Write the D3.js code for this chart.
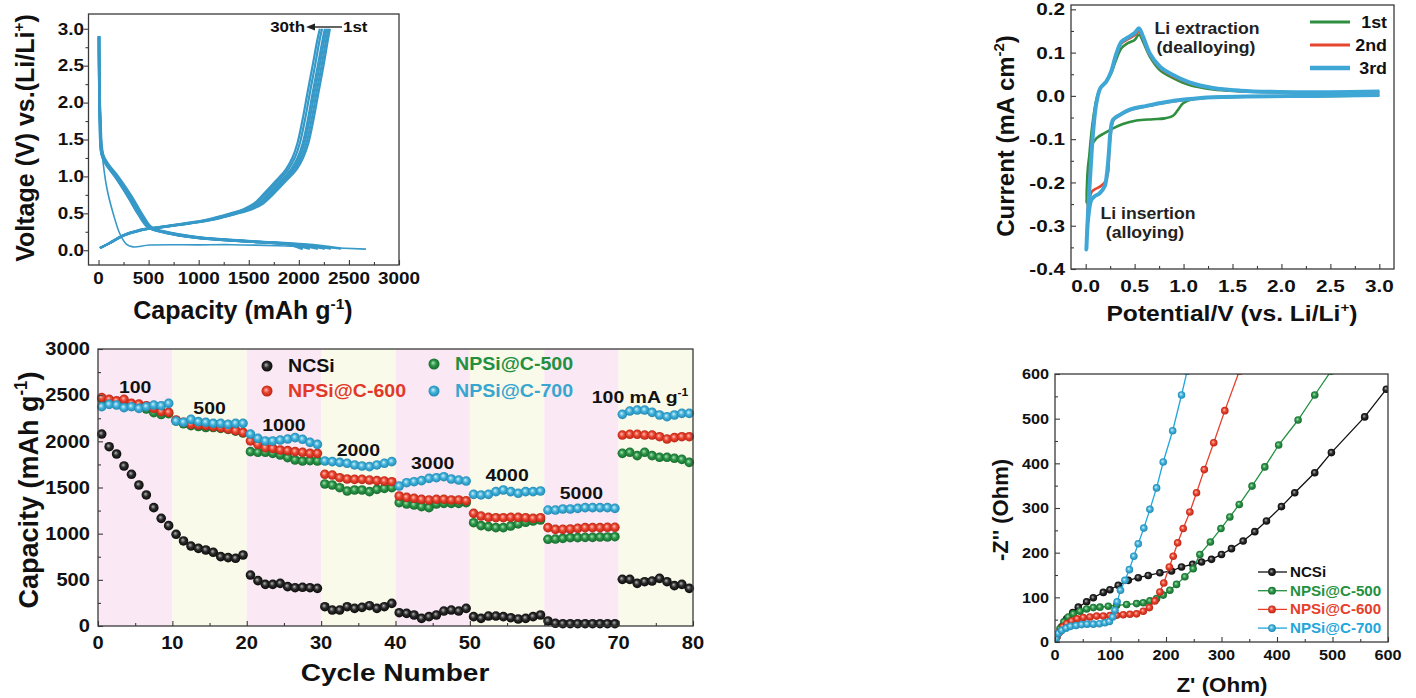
<!DOCTYPE html>
<html>
<head>
<meta charset="utf-8">
<script src="https://cdn.jsdelivr.net/npm/d3@7"></script>
<style>
body { margin: 0; background: #fff; }
svg text { font-family: 'Liberation Sans', Arial, sans-serif; font-weight: bold; }
.frame { fill: none; stroke: #3a3a3a; stroke-width: 1.3; }
.tick line { stroke: #3a3a3a; stroke-width: 1.1; }
</style>
</head>
<body>
<div id="chart"></div>
<script>
// ---- panel a : charge / discharge profiles
var chargeV = [0.03, 0.1, 0.2, 0.27, 0.31, 0.36, 0.42, 0.49, 0.56, 0.63, 0.76, 0.95, 1.1, 1.26, 1.45, 1.76, 2.13, 2.49, 2.85, 3.0],
    chargeCap = [
        [15, 120, 255, 425, 630, 900, 1170, 1370, 1540, 1640, 1745, 1880, 1980, 2045, 2095, 2145, 2195, 2245, 2290, 2310],
        [15, 118, 252, 420, 620, 890, 1160, 1360, 1525, 1625, 1728, 1862, 1962, 2027, 2076, 2126, 2176, 2226, 2273, 2295],
        [15, 116, 250, 415, 614, 880, 1146, 1345, 1510, 1608, 1710, 1843, 1942, 2008, 2056, 2106, 2156, 2206, 2254, 2277],
        [15, 115, 247, 411, 609, 872, 1135, 1332, 1497, 1595, 1694, 1826, 1924, 1990, 2039, 2089, 2138, 2188, 2237, 2260],
        [15, 112, 242, 402, 596, 855, 1115, 1310, 1472, 1570, 1668, 1800, 1896, 1962, 2010, 2060, 2110, 2160, 2208, 2232],
        [15, 110, 238, 395, 585, 840, 1098, 1292, 1452, 1550, 1648, 1778, 1873, 1938, 1986, 2036, 2086, 2136, 2185, 2210]
    ],
    dischargeV = [2.9, 1.8, 1.3, 1.17, 0.99, 0.72, 0.49, 0.31, 0.24, 0.17, 0.12, 0.08, 0.03, 0.02],
    dischargeCap = [
        [5, 18, 45, 95, 200, 335, 435, 530, 700, 1040, 1550, 2050, 2380, 2420],
        [5, 16, 40, 88, 190, 322, 422, 519, 686, 1018, 1520, 1990, 2290, 2320],
        [5, 15, 37, 84, 184, 315, 415, 512, 677, 1006, 1505, 1960, 2230, 2260],
        [5, 14, 34, 80, 178, 308, 407, 505, 668, 995, 1490, 1930, 2160, 2190],
        [5, 13, 32, 76, 172, 300, 400, 499, 660, 982, 1470, 1905, 2080, 2110],
        [5, 12, 30, 72, 168, 296, 396, 496, 655, 975, 1460, 1890, 2010, 2040]
    ],
    firstDisV = [2.88, 1.8, 1.35, 0.85, 0.49, 0.22, 0.08, 0.045, 0.07, 0.073, 0.075, 0.06, 0.04, 0.015],
    firstDisCap = [0, 10, 33, 82, 148, 214, 280, 345, 510, 1003, 1332, 1800, 2200, 2670];

// ---- panel b : cyclic voltammetry, [potential, current]
var cv1 = [[3.0, 0.0015], [2.33, -0.001], [1.64, -0.002], [1.3, -0.004], [1.1, -0.007], [0.995, -0.017], [0.944, -0.032],
           [0.893, -0.046], [0.808, -0.052], [0.689, -0.054], [0.518, -0.057], [0.38, -0.065], [0.28, -0.075], [0.194, -0.086],
           [0.109, -0.098], [0.058, -0.117], [0.024, -0.163], [0.008, -0.248], [0.024, -0.178], [0.048, -0.109], [0.075, -0.055],
           [0.109, -0.009], [0.15, 0.018], [0.21, 0.033], [0.26, 0.052], [0.31, 0.083], [0.365, 0.11], [0.43, 0.122], [0.5, 0.129],
           [0.545, 0.142], [0.586, 0.125], [0.655, 0.091], [0.757, 0.06], [0.893, 0.041], [1.06, 0.025], [1.3, 0.015], [1.58, 0.011],
           [1.98, 0.0085], [2.5, 0.008], [3.0, 0.009]],
    cv2 = [[3.0, 0.003], [2.33, 0.0], [1.64, -0.0015], [1.3, -0.003], [1.03, -0.009], [0.825, -0.015], [0.62, -0.024], [0.45, -0.033],
           [0.348, -0.045], [0.28, -0.058], [0.255, -0.09], [0.24, -0.13], [0.228, -0.178], [0.2, -0.198], [0.15, -0.209], [0.1, -0.215],
           [0.06, -0.222], [0.03, -0.26], [0.01, -0.33], [0.024, -0.25], [0.048, -0.16], [0.075, -0.075], [0.109, -0.014], [0.15, 0.018],
           [0.21, 0.033], [0.26, 0.055], [0.31, 0.092], [0.365, 0.121], [0.43, 0.131], [0.5, 0.14], [0.545, 0.149], [0.586, 0.132],
           [0.655, 0.094], [0.757, 0.065], [0.893, 0.045], [1.06, 0.029], [1.3, 0.017], [1.58, 0.011], [1.98, 0.009], [2.5, 0.008], [3.0, 0.01]],
    cv3 = [[3.0, 0.002], [2.33, 0.0], [1.64, -0.0015], [1.3, -0.003], [1.03, -0.008], [0.825, -0.014], [0.62, -0.023], [0.45, -0.032],
           [0.348, -0.044], [0.28, -0.055], [0.252, -0.086], [0.239, -0.125], [0.218, -0.178], [0.194, -0.209], [0.143, -0.225],
           [0.092, -0.232], [0.058, -0.24], [0.024, -0.286], [0.007, -0.355], [0.024, -0.27], [0.048, -0.178], [0.075, -0.086],
           [0.109, -0.017], [0.15, 0.018], [0.21, 0.033], [0.26, 0.056], [0.31, 0.095], [0.365, 0.125], [0.43, 0.135], [0.5, 0.145],
           [0.545, 0.156], [0.586, 0.137], [0.655, 0.098], [0.757, 0.068], [0.893, 0.048], [1.06, 0.031], [1.3, 0.018], [1.58, 0.012],
           [1.98, 0.009], [2.5, 0.0085], [3.0, 0.01]];
var cvNames = ["1st", "2nd", "3rd"];

// ---- panel c : rate capability (mAh g-1), cycles 1..80
var cycles = d3.range(1, 81),
    rateNames = ["NCSi", "NPSi@C-600", "NPSi@C-500", "NPSi@C-700"],
    currentLabels = ["100", "500", "1000", "2000", "3000", "4000", "5000"],
    ncsi = [2079, 1942, 1863, 1733, 1643, 1527, 1419, 1282, 1166, 1087, 993, 921, 866, 841, 823, 798, 751, 740, 733, 769,
            552, 491, 451, 451, 462, 426, 415, 419, 415, 408, 209, 173, 173, 209, 191, 202, 220, 191, 209, 245,
            144, 137, 119, 83, 101, 119, 162, 173, 162, 191, 101, 83, 108, 108, 101, 90, 76, 83, 101, 119,
            54, 29, 25, 25, 25, 25, 25, 25, 25, 25, 505, 505, 462, 480, 487, 516, 480, 437, 451, 408],
    npsi600 = [2473, 2455, 2440, 2455, 2411, 2404, 2386, 2357, 2321, 2314, 2231, 2206, 2184, 2177, 2170, 2159, 2148, 2133, 2115, 2097,
            2004, 1967, 1931, 1924, 1906, 1899, 1888, 1881, 1870, 1870, 1643, 1635, 1606, 1592, 1588, 1588, 1581, 1574, 1570, 1563,
            1408, 1393, 1383, 1372, 1365, 1372, 1372, 1365, 1365, 1357, 1220, 1191, 1177, 1173, 1173, 1177, 1177, 1173, 1166, 1173,
            1065, 1047, 1047, 1051, 1058, 1065, 1065, 1065, 1069, 1069, 2068, 2076, 2076, 2068, 2068, 2050, 2025, 2040, 2050, 2050],
    npsi500 = [2460, 2445, 2420, 2400, 2380, 2370, 2350, 2310, 2290, 2300, 2220, 2190, 2170, 2160, 2150, 2150, 2140, 2130, 2110, 2090,
            1888, 1881, 1881, 1870, 1852, 1823, 1798, 1787, 1790, 1787, 1538, 1527, 1498, 1462, 1473, 1473, 1455, 1480, 1491, 1498,
            1336, 1321, 1310, 1292, 1282, 1321, 1328, 1328, 1328, 1336, 1119, 1087, 1076, 1065, 1065, 1083, 1105, 1123, 1137, 1148,
            939, 942, 949, 957, 957, 960, 960, 964, 964, 967, 1870, 1881, 1845, 1881, 1845, 1827, 1827, 1816, 1805, 1772],
    npsi700 = [2375, 2400, 2393, 2364, 2375, 2357, 2375, 2393, 2386, 2411, 2220, 2206, 2238, 2213, 2206, 2195, 2195, 2184, 2195, 2195,
            2079, 2032, 2004, 2004, 2014, 2025, 2040, 2022, 1989, 1967, 1787, 1780, 1772, 1762, 1744, 1733, 1726, 1744, 1762, 1780,
            1516, 1552, 1563, 1574, 1599, 1606, 1617, 1592, 1581, 1570, 1426, 1419, 1426, 1455, 1473, 1455, 1437, 1455, 1455, 1462,
            1256, 1256, 1267, 1267, 1274, 1282, 1282, 1282, 1282, 1274, 2292, 2328, 2339, 2339, 2314, 2285, 2267, 2285, 2303, 2303];

// ---- panel d : Nyquist plots, [Z', -Z'']
var eisNames = ["NCSi", "NPSi@C-500", "NPSi@C-600", "NPSi@C-700"],
    eisNCSi = [[3, 11], [12, 34], [21, 52], [32, 66], [42, 78], [57, 90], [69, 99], [87, 111], [99, 117], [114, 127], [132, 138],
               [150, 144], [168, 149], [189, 155], [210, 159], [228, 168], [248, 174], [264, 179], [282, 185], [300, 196], [318, 209],
               [339, 226], [360, 247], [381, 271], [408, 303], [432, 334], [468, 379], [498, 424], [558, 504], [597, 566]],
    eis500 = [[3, 11], [9, 30], [16, 45], [24, 56], [33, 63], [45, 69], [57, 74], [69, 77], [81, 78], [96, 80], [111, 82], [129, 84],
              [147, 86], [159, 88], [171, 92], [183, 97], [195, 105], [207, 116], [219, 129], [234, 146], [249, 164], [261, 196],
              [280, 224], [299, 254], [315, 280], [332, 308], [355, 349], [378, 392], [403, 441], [438, 497], [468, 553], [497, 606]],
    eis600 = [[3, 10], [8, 22], [14, 34], [21, 41], [30, 47], [40, 52], [51, 55], [63, 56], [75, 58], [87, 58], [99, 59], [111, 60],
              [123, 61], [135, 62], [147, 63], [159, 69], [170, 77], [180, 92], [189, 112], [196, 132], [206, 168], [213, 192],
              [221, 222], [231, 254], [243, 291], [255, 334], [269, 386], [286, 446], [306, 518], [332, 606]],
    eis700 = [[2, 7], [6, 19], [12, 26], [20, 31], [28, 35], [38, 37], [48, 39], [58, 40], [69, 40], [80, 41], [90, 43], [98, 46],
              [104, 56], [108, 71], [112, 90], [118, 116], [126, 138], [134, 162], [142, 192], [150, 220], [160, 255], [171, 297],
              [183, 345], [195, 403], [212, 473], [228, 553], [238, 606]];

var svg = d3.select("#chart").append("svg").attr("width", 1416).attr("height", 698);
var defs = svg.append("defs");

// ball markers (Origin style spheres)
var balls = {
    black: ["#b8b8b8", "#2b2b2b", "#050505"],
    red: ["#ffc2b8", "#ea4430", "#b3200f"],
    green: ["#a8e6b6", "#2c9447", "#12652a"],
    cyan: ["#d2f1fb", "#42b2da", "#1b82ae"]
};
Object.keys(balls).forEach(function (k) {
    var g = defs.append("radialGradient").attr("id", "ball-" + k)
        .attr("cx", "50%").attr("cy", "50%").attr("r", "55%").attr("fx", "40%").attr("fy", "38%");
    g.append("stop").attr("offset", "0%").attr("stop-color", balls[k][0]);
    g.append("stop").attr("offset", "45%").attr("stop-color", balls[k][1]);
    g.append("stop").attr("offset", "100%").attr("stop-color", balls[k][2]);
});

// text helper: bold text, optionally stretched and rotated, parts = [[str, "sup"?], ...]
function txt(g, x, y, parts, o) {
    o = o || {};
    var size = o.size || 16, sx = o.sx || 1;
    var tr = "translate(" + x + "," + y + ")" + (o.rot ? " rotate(-90) scale(1," + sx + ")" : " scale(" + sx + ",1)");
    var t = g.append("text").attr("transform", tr)
        .attr("text-anchor", o.anchor || "middle")
        .attr("dy", "0.36em")
        .attr("font-size", size)
        .attr("fill", o.color || "#111");
    if (typeof parts === "string") parts = [[parts]];
    var up = false;
    parts.forEach(function (p) {
        var s = t.append("tspan").text(p[0]);
        if (p[1] === "sup") {
            s.attr("font-size", size * 0.62).attr("dy", -size * 0.4);
            up = true;
        } else if (up) {
            s.attr("dy", size * 0.4);
            up = false;
        }
    });
    return t;
}

function frame(g, x, y) {
    g.append("rect").attr("class", "frame")
        .attr("x", x.range()[0]).attr("y", y.range()[1])
        .attr("width", x.range()[1] - x.range()[0])
        .attr("height", y.range()[0] - y.range()[1]);
}

// ticks via d3 axes; inward > 0 means ticks point into the plot
function ticks(g, x, y, xMaj, xMin, yMaj, yMin, xIn, yIn) {
    [[xMin, 3], [xMaj, 5]].forEach(function (t) {
        g.append("g").attr("transform", "translate(0," + y.range()[0] + ")")
            .call(d3.axisBottom(x).tickValues(t[0]).tickFormat("").tickSize(xIn ? -t[1] : t[1]))
            .call(function (a) { a.select(".domain").remove(); });
    });
    [[yMin, 3], [yMaj, 5]].forEach(function (t) {
        g.append("g").attr("transform", "translate(" + x.range()[0] + ",0)")
            .call(d3.axisLeft(y).tickValues(t[0]).tickFormat("").tickSize(yIn ? -t[1] : t[1]))
            .call(function (a) { a.select(".domain").remove(); });
    });
}

// ======== panel a
(function () {
    var g = svg.append("g");
    var x = d3.scaleLinear().domain([-100, 3000]).range([88.5, 399]),
        y = d3.scaleLinear().domain([-0.2, 3.2]).range([265, 14]);
    var line = d3.line().x(function (d) { return x(d[0]); }).y(function (d) { return y(d[1]); }).curve(d3.curveCatmullRom);
    var col = "#3799c8";

    dischargeCap.forEach(function (c) {
        g.append("path").attr("d", line(c.map(function (v, i) { return [v, dischargeV[i]]; })))
            .attr("fill", "none").attr("stroke", col).attr("stroke-width", 2.5);
    });
    chargeCap.forEach(function (c) {
        g.append("path").attr("d", line(c.map(function (v, i) { return [v, chargeV[i]]; })))
            .attr("fill", "none").attr("stroke", col).attr("stroke-width", 2.2);
    });
    g.append("path").attr("d", line(firstDisCap.map(function (v, i) { return [v, firstDisV[i]]; })))
        .attr("fill", "none").attr("stroke", col).attr("stroke-width", 1.6);

    frame(g, x, y);
    ticks(g, x, y, d3.range(0, 3001, 500), d3.range(250, 3000, 500),
          d3.range(0, 3.01, 0.5), d3.range(0.25, 3, 0.5), true, false);
    d3.range(0, 3001, 500).forEach(function (v) { txt(g, x(v), 278, String(v), {size: 16, sx: 1.18}); });
    d3.range(0, 3.01, 0.5).forEach(function (v) { txt(g, 84, y(v), v.toFixed(1), {size: 16, sx: 1.18, anchor: "end"}); });
    txt(g, 25, 138, [["Voltage (V) vs.(Li/Li"], ["+", "sup"], [")"]], {size: 25, rot: true});
    txt(g, 243, 310, [["Capacity (mAh g"], ["-1", "sup"], [")"]], {size: 25});

    txt(g, 305, 27, "30th", {size: 15, sx: 1.13, anchor: "end"});
    txt(g, 343, 27, "1st", {size: 15, sx: 1.13, anchor: "start"});
    g.append("line").attr("x1", 342).attr("x2", 312).attr("y1", 27).attr("y2", 27).attr("stroke", "#222").attr("stroke-width", 1.4);
    g.append("path").attr("d", "M306,27 L315,23.5 L315,30.5 Z").attr("fill", "#222");
})();

// ======== panel b
(function () {
    var g = svg.append("g");
    var x = d3.scaleLinear().domain([-0.15, 3.15]).range([1071, 1394]),
        y = d3.scaleLinear().domain([-0.4, 0.21]).range([269, 5]);
    var line = d3.line().x(function (d) { return x(d[0]); }).y(function (d) { return y(d[1]); }).curve(d3.curveCatmullRom);
    var cols = ["#2e8f3e", "#e6452f", "#3fa7d6"], widths = [2.6, 2.6, 4];

    [cv1, cv2, cv3].forEach(function (c, i) {
        g.append("path").attr("d", line(c)).attr("fill", "none")
            .attr("stroke", cols[i]).attr("stroke-width", widths[i]).attr("stroke-linejoin", "round");
    });

    frame(g, x, y);
    ticks(g, x, y, d3.range(0, 3.01, 0.5), d3.range(0.25, 3, 0.5),
          d3.range(-0.4, 0.21, 0.1), d3.range(-0.35, 0.2, 0.1), true, true);
    d3.range(0, 3.01, 0.5).forEach(function (v) { txt(g, x(v), 286, v.toFixed(1), {size: 17, sx: 1.22}); });
    d3.range(-0.4, 0.21, 0.1).forEach(function (v) {
        txt(g, 1065, y(v), v.toFixed(1).replace("-0.0", "0.0"), {size: 17, sx: 1.22, anchor: "end"});
    });
    txt(g, 1005, 136, [["Current (mA cm"], ["-2", "sup"], [")"]], {size: 24, rot: true});
    txt(g, 1232, 313, [["Potential/V (vs. Li/Li"], ["+", "sup"], [")"]], {size: 22, sx: 1.12});

    cvNames.forEach(function (n, i) {
        var yy = 22 + i * 23;
        g.append("line").attr("x1", 1310).attr("x2", 1350).attr("y1", yy).attr("y2", yy)
            .attr("stroke", cols[i]).attr("stroke-width", widths[i] + 0.6);
        txt(g, 1387, yy, n, {size: 17, sx: 1.05, anchor: "end"});
    });
    txt(g, 1207, 28, "Li extraction", {size: 16.5, sx: 1.07, color: "#222"});
    txt(g, 1206, 47, "(dealloying)", {size: 16.5, sx: 1.07, color: "#222"});
    txt(g, 1148, 213, "Li insertion", {size: 16.5, sx: 1.07, color: "#222"});
    txt(g, 1145, 232, "(alloying)", {size: 16.5, sx: 1.07, color: "#222"});
})();

// ======== panel c
(function () {
    var g = svg.append("g");
    var x = d3.scaleLinear().domain([0, 80]).range([98, 693]),
        y = d3.scaleLinear().domain([0, 3000]).range([626, 349]);

    d3.range(0, 80, 10).forEach(function (b, i) {
        g.append("rect").attr("x", x(b)).attr("y", y(3000)).attr("width", x(b + 10) - x(b)).attr("height", y(0) - y(3000))
            .attr("fill", i % 2 ? "#fafaea" : "#fae9f4");
    });

    var series = [[ncsi, "black"], [npsi500, "green"], [npsi600, "red"], [npsi700, "cyan"]];
    series.forEach(function (s) {
        g.append("g").selectAll("circle").data(s[0]).enter().append("circle")
            .attr("cx", function (d, i) { return x(cycles[i] - 0.5); })
            .attr("cy", function (d) { return y(d); })
            .attr("r", 4.8)
            .attr("fill", "url(#ball-" + s[1] + ")");
    });

    frame(g, x, y);
    ticks(g, x, y, d3.range(0, 81, 10), d3.range(5, 80, 10),
          d3.range(0, 3001, 500), d3.range(250, 3000, 500), true, true);
    d3.range(0, 81, 10).forEach(function (v) { txt(g, x(v), 643, String(v), {size: 17.5, sx: 1.15}); });
    d3.range(0, 3001, 500).forEach(function (v) { txt(g, 90, y(v), String(v), {size: 17.5, sx: 1.15, anchor: "end"}); });
    txt(g, 28, 490, [["Capacity (mAh g"], ["-1", "sup"], [")"]], {size: 27, rot: true, sx: 1.05});
    txt(g, 395, 672, "Cycle Number", {size: 24, sx: 1.17});

    var labelCap = [2590, 2360, 2180, 1905, 1765, 1635, 1440];
    currentLabels.forEach(function (l, i) { txt(g, x(5 + 10 * i), y(labelCap[i]), l, {size: 16.5, sx: 1.18}); });
    txt(g, 640, y(2480), [["100 mA g"], ["-1", "sup"]], {size: 16.5, sx: 1.18});

    // legend
    var leg = [[0, 267, 366, "black", "#111"], [1, 267, 391, "red", "#e2382a"],
               [2, 434, 364, "green", "#239040"], [3, 434, 391, "cyan", "#38a6cf"]];
    leg.forEach(function (l) {
        g.append("circle").attr("cx", l[1]).attr("cy", l[2]).attr("r", 5.5).attr("fill", "url(#ball-" + l[3] + ")");
        txt(g, l[1] + 21, l[2], rateNames[l[0]], {size: 17.5, sx: 1.12, anchor: "start", color: l[4]});
    });
})();

// ======== panel d
(function () {
    var g = svg.append("g");
    var x = d3.scaleLinear().domain([0, 600]).range([1055, 1388]),
        y = d3.scaleLinear().domain([0, 600]).range([642, 374]);
    var line = d3.line().x(function (d) { return x(d[0]); }).y(function (d) { return y(d[1]); });
    var series = [[eisNCSi, "black", "#111"], [eis500, "green", "#239040"], [eis600, "red", "#e5402c"], [eis700, "cyan", "#1fa6dc"]];

    g.append("clipPath").attr("id", "clipd").append("rect")
        .attr("x", 1055).attr("y", 374).attr("width", 333).attr("height", 268);
    var plot = g.append("g").attr("clip-path", "url(#clipd)");
    series.forEach(function (s) {
        plot.append("path").attr("d", line(s[0])).attr("fill", "none").attr("stroke", s[2]).attr("stroke-width", 1.3);
        plot.append("g").selectAll("circle").data(s[0]).enter().append("circle")
            .attr("cx", function (d) { return x(d[0]); }).attr("cy", function (d) { return y(d[1]); })
            .attr("r", 3.8).attr("fill", "url(#ball-" + s[1] + ")");
    });

    frame(g, x, y);
    ticks(g, x, y, d3.range(0, 601, 100), d3.range(50, 600, 100),
          d3.range(0, 601, 100), d3.range(50, 600, 100), true, true);
    d3.range(0, 601, 100).forEach(function (v) { txt(g, x(v), 655, String(v), {size: 14.5, sx: 1.12}); });
    d3.range(0, 601, 100).forEach(function (v) { txt(g, 1049, y(v), String(v), {size: 14.5, sx: 1.12, anchor: "end"}); });
    txt(g, 1000, 510, "-Z'' (Ohm)", {size: 22, rot: true});
    txt(g, 1222, 685, "Z' (Ohm)", {size: 20, sx: 1.12});

    eisNames.forEach(function (n, i) {
        var yy = 572 + i * 18.7, s = series[i];
        g.append("line").attr("x1", 1258).attr("x2", 1287).attr("y1", yy).attr("y2", yy).attr("stroke", s[2]).attr("stroke-width", 1.3);
        g.append("circle").attr("cx", 1272).attr("cy", yy).attr("r", 3.9).attr("fill", "url(#ball-" + s[1] + ")");
        txt(g, 1290, yy, n, {size: 14, sx: 1.08, anchor: "start", color: s[2]});
    });
})();
</script>
</body>
</html>
